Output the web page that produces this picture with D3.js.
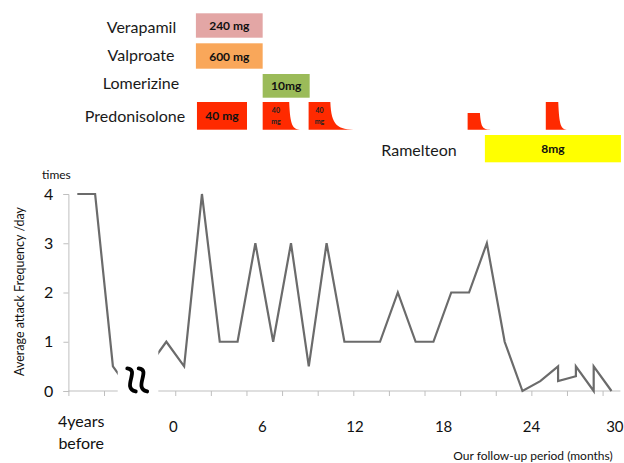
<!DOCTYPE html>
<html>
<head>
<meta charset="utf-8">
<script src="https://cdn.jsdelivr.net/npm/d3@7"></script>
<style>
  body { margin: 0; background: #fff; }
  text { font-family: Lato, "Open Sans", sans-serif; }
</style>
</head>
<body>
<div id="chart"></div>
<script>
(function () {
  // attack frequency, one point per category (k), some categories hold two points
  const pointIndex = [0, 1, 2, 3, 4, 5, 6, 7, 8, 9, 10, 11, 12, 13, 14, 15, 16, 17, 18, 19, 20,
    21, 22, 23, 24, 25, 26, 27, 27, 28, 28, 29, 29, 30];
  const frequency = [4, 4, 0.5, 0, 0.5, 1, 0.5, 4, 1, 1, 3, 1, 3, 0.5, 3, 1, 1, 1, 2, 1, 1,
    2, 2, 3, 1, 0, 0.2, 0.5, 0.2, 0.3, 0.5, 0, 0.5, 0];

  const yTicks = [0, 1, 2, 3, 4];
  const monthLabels = ["0", "6", "12", "18", "24", "30"];
  const monthLabelAt = [5.39, 10.39, 15.59, 20.57, 25.51, 30.19];

  // medication bars (positions in category units)
  const drugs = ["Verapamil", "Valproate", "Lomerizine", "Predonisolone", "Ramelteon"];
  const doses = ["240 mg", "600 mg", "10mg", "40 mg", "8mg"];
  const drugStart = [6.66, 6.66, 10.41, 6.72, 22.89];
  const drugEnd = [10.41, 10.41, 13.05, 9.53, 30.53];
  const drugColors = ["#e3a6a5", "#f9a75a", "#9bbb59", "#ff2a00", "#ffff00"];

  // tapering prednisolone courses
  const taperStart = [10.41, 12.99, 21.92, 26.31];
  const taperFlat = [11.90, 14.21, 22.61, 27.01];
  const taperEnd = [12.60, 15.72, 23.21, 27.57];
  const taperLevel = [1, 1, 0.6, 1];
  const taperDose = ["40 mg", "40 mg", "", ""];

  const width = 624;
  const height = 463;

  const svg = d3.select("#chart")
    .append("svg")
    .attr("width", width)
    .attr("height", height);

  const x = d3.scaleLinear().domain([-0.5, 30.5]).range([68.4, 620.4]);
  const y = d3.scaleLinear().domain([0, 4]).range([391, 194]);

  // rows of the medication panel
  const rowTop = [13.3, 43.3, 74, 102, 135];
  const rowBottom = [37.7, 68.7, 97.7, 129.7, 162.3];
  const labelX = [141.5, 141, 141, 135, 419];
  const labelBase = [33.3, 60.7, 89.3, 121.7, 156];

  const bars = drugs.map((name, i) => ({
    name, dose: doses[i], s: drugStart[i], e: drugEnd[i], color: drugColors[i],
    top: rowTop[i], bottom: rowBottom[i], lx: labelX[i], ly: labelBase[i]
  }));

  svg.append("g")
    .selectAll("text")
    .data(bars)
    .enter()
    .append("text")
    .attr("x", d => d.lx)
    .attr("y", d => d.ly)
    .attr("text-anchor", "middle")
    .style("font-size", "16px")
    .style("fill", "#1a1a1a")
    .text(d => d.name);

  const barG = svg.append("g")
    .selectAll("g")
    .data(bars)
    .enter()
    .append("g");

  barG.append("rect")
    .attr("x", d => x(d.s))
    .attr("y", d => d.top)
    .attr("width", d => x(d.e) - x(d.s))
    .attr("height", d => d.bottom - d.top)
    .attr("fill", d => d.color);

  barG.append("text")
    .attr("x", d => (x(d.s) + x(d.e)) / 2)
    .attr("y", d => (d.top + d.bottom) / 2 + 4.5)
    .attr("text-anchor", "middle")
    .style("font-size", "12px")
    .style("font-weight", "bold")
    .style("fill", "#111")
    .text(d => d.dose);

  const tapers = taperStart.map((s, i) => ({
    s, f: taperFlat[i], e: taperEnd[i], level: taperLevel[i], dose: taperDose[i]
  }));
  const taperBottom = 129.7;
  const taperH = 27.7;

  const taperG = svg.append("g")
    .selectAll("g")
    .data(tapers)
    .enter()
    .append("g");

  taperG.append("path")
    .attr("fill", "#ff2a00")
    .attr("d", d => {
      const x0 = x(d.s), x1 = x(d.f), x2 = x(d.e);
      const h = taperH * d.level;
      const top = taperBottom - h;
      return `M${x0},${top}H${x1}C${x1 + 1},${top + h * 0.85} ${x1 + (x2 - x1) * 0.25},${taperBottom} ${x2},${taperBottom}H${x0}Z`;
    });

  taperG.filter(d => d.dose)
    .append("text")
    .attr("text-anchor", "middle")
    .style("font-size", "7px")
    .style("font-weight", "bold")
    .style("fill", "#222")
    .selectAll("tspan")
    .data(d => d.dose.split(" ").map(t => ({ t, cx: (x(d.s) + x(d.f)) / 2 })))
    .enter()
    .append("tspan")
    .attr("x", d => d.cx)
    .attr("y", (d, i) => 113 + i * 11)
    .text(d => d.t);

  // axes
  const yAxis = svg.append("g")
    .attr("transform", `translate(${x(-0.5)},0)`)
    .call(d3.axisLeft(y).tickValues(yTicks).tickSize(5).tickPadding(10).tickFormat(d3.format("d")));
  yAxis.select(".domain").attr("stroke", "#bfbfbf");
  yAxis.selectAll(".tick line").attr("stroke", "#bfbfbf");
  yAxis.selectAll(".tick text")
    .style("font-size", "16px")
    .style("font-family", "Lato, sans-serif")
    .style("fill", "#111");

  const boundaries = d3.range(-0.5, 30, 2);
  const xAxis = svg.append("g")
    .attr("transform", `translate(0,${y(0)})`)
    .call(d3.axisBottom(x).tickValues(boundaries).tickSize(5).tickFormat(""));
  xAxis.select(".domain").attr("stroke", "#bfbfbf").attr("d", `M${x(-0.5)},0H${x(30.5)}`);
  xAxis.selectAll(".tick line").attr("stroke", "#bfbfbf");

  // attack frequency line
  const pts = pointIndex.map((k, i) => [k, frequency[i]]);
  svg.append("path")
    .datum(pts)
    .attr("fill", "none")
    .attr("stroke", "#6b6b6b")
    .attr("stroke-width", 2.2)
    .attr("stroke-linejoin", "miter")
    .attr("d", d3.line().x(d => x(d[0])).y(d => y(d[1])));

  // axis break
  svg.append("rect")
    .attr("x", x(2.27))
    .attr("y", y(1.1))
    .attr("width", x(4.55) - x(2.27))
    .attr("height", y(0) - y(1.1) + 12)
    .attr("fill", "#fff");

  [3.03, 3.67].forEach(k => {
    const cx = x(k);
    const t = y(0.49), b = y(-0.04);
    svg.append("path")
      .attr("fill", "none")
      .attr("stroke", "#000")
      .attr("stroke-width", 3.8)
      .attr("stroke-linecap", "round")
      .attr("d", `M${cx - 4},${t + 1.5}C${cx + 9},${t + 3} ${cx - 10},${b - 5} ${cx + 4.5},${b - 1.5}`);
  });

  // labels
  svg.append("g")
    .selectAll("text")
    .data(monthLabels)
    .enter()
    .append("text")
    .attr("x", (d, i) => x(monthLabelAt[i]))
    .attr("y", 431.7)
    .attr("text-anchor", "middle")
    .style("font-size", "15px")
    .style("fill", "#111")
    .text(d => d);

  svg.append("text")
    .attr("text-anchor", "middle")
    .style("font-size", "16px")
    .style("fill", "#111")
    .selectAll("tspan")
    .data(["4years", "before"])
    .enter()
    .append("tspan")
    .attr("x", x(0.22))
    .attr("y", (d, i) => 427.3 + i * 21.3)
    .text(d => d);

  svg.append("text")
    .attr("x", 42)
    .attr("y", 179)
    .style("font-size", "12px")
    .style("fill", "#111")
    .text("times");

  svg.append("text")
    .attr("transform", "translate(24,291.5) rotate(-90)")
    .attr("text-anchor", "middle")
    .style("font-size", "12.5px")
    .style("fill", "#111")
    .text("Average attack Frequency /day");

  svg.append("text")
    .attr("x", 612.7)
    .attr("y", 459.5)
    .attr("text-anchor", "end")
    .style("font-size", "12px")
    .style("fill", "#111")
    .text("Our follow-up period (months)");
})();
</script>
</body>
</html>
